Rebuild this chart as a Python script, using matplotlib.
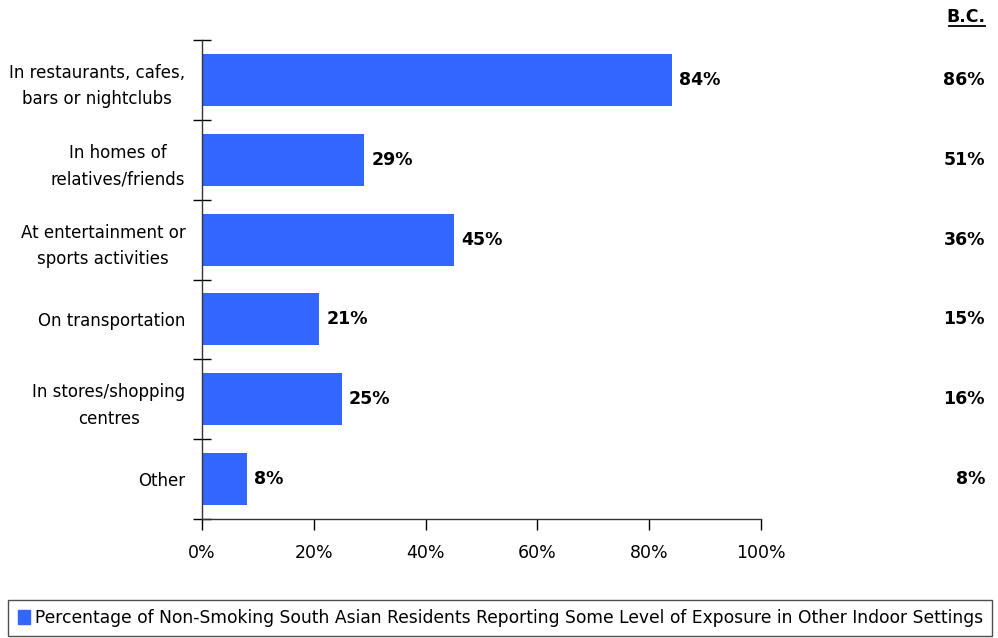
import matplotlib.pyplot as plt
from matplotlib.patches import Patch
from matplotlib.transforms import blended_transform_factory

categories = [
    "In restaurants, cafes,\nbars or nightclubs",
    "In homes of\nrelatives/friends",
    "At entertainment or\nsports activities",
    "On transportation",
    "In stores/shopping\ncentres",
    "Other",
]
south_asian = [84, 29, 45, 21, 25, 8]
bc_values = [86, 51, 36, 15, 16, 8]
x_ticks = [0, 20, 40, 60, 80, 100]

bar_color = "#3366FF"
plt.rcParams["font.family"] = "DejaVu Sans"

fig = plt.figure(figsize=(9.98, 6.38), dpi=100)
ax = fig.add_axes([0.2024, 0.1865, 0.5601, 0.7508])

ypos = list(range(len(categories)))
ax.barh(ypos, south_asian, height=0.65, color=bar_color, zorder=2)
ax.set_ylim(len(categories) - 0.5, -0.5)
ax.set_xlim(0, 100)

# bar value labels
for y, v in zip(ypos, south_asian):
    ax.text(v + 1.3, y, f"{v}%", va="center", ha="left",
            fontsize=12.5, fontweight="bold")

# B.C. comparison column on the right
bc_trans = blended_transform_factory(fig.transFigure, ax.transData)
for y, v in zip(ypos, bc_values):
    ax.text(985 / 998, y, f"{v}%", transform=bc_trans,
            va="center", ha="right", fontsize=12.5, fontweight="bold")
fig.text(985 / 998, 1 - 17 / 638, "B.C.", ha="right", va="center",
         fontsize=12.5, fontweight="bold")
fig.add_artist(plt.Line2D([949 / 998, 985 / 998], [1 - 26 / 638, 1 - 26 / 638],
                          color="black", lw=1.3))

# axes styling
for side in ("top", "right"):
    ax.spines[side].set_visible(False)
for side in ("left", "bottom"):
    ax.spines[side].set_color("#333333")
    ax.spines[side].set_linewidth(1.0)

ax.set_yticks([y + 0.5 for y in [-1] + ypos])
ax.set_yticklabels([])
ax.set_yticks(ypos, minor=True)
ax.set_yticklabels(categories, minor=True, fontsize=12, ha="right",
                   multialignment="center", linespacing=1.6)
ax.tick_params(axis="y", which="major", direction="inout", length=13, width=1)
ax.tick_params(axis="y", which="minor", length=0, pad=12)

ax.set_xticks(x_ticks)
ax.set_xticklabels([f"{t}%" for t in x_ticks], fontsize=12.5)
ax.tick_params(axis="x", direction="out", length=8, width=1, pad=10)

# legend box along the bottom
leg = fig.legend(handles=[Patch(color=bar_color)],
                 labels=["Percentage of Non-Smoking South Asian Residents Reporting Some Level of Exposure in Other Indoor Settings"],
                 loc="lower center", bbox_to_anchor=(0.5015, 0.0), fontsize=12.3,
                 frameon=True, fancybox=False, edgecolor="#222222",
                 handlelength=0.7, handleheight=0.9, handletextpad=0.3,
                 borderpad=0.55, borderaxespad=0.1)
leg.get_frame().set_linewidth(1.0)

fig.savefig("out.png", dpi=100)
